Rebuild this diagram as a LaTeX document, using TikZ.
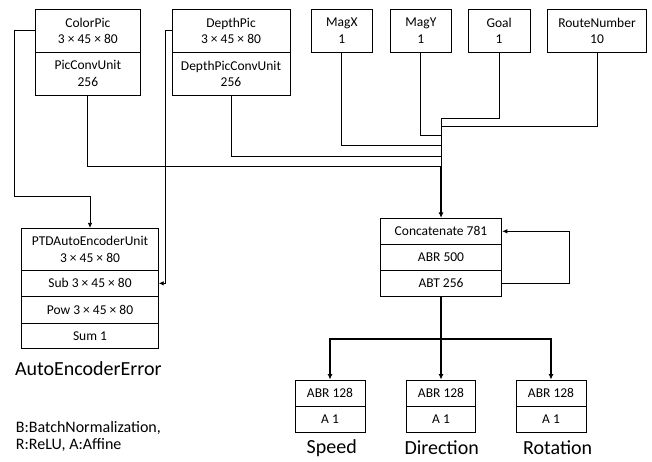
\documentclass[tikz,border=0pt]{standalone}
\usepackage{fontspec}
\setmainfont{Carlito}
\usetikzlibrary{arrows.meta,calc}
\newcommand{\dims}{3 × 45 × 80}
\begin{document}
\begin{tikzpicture}[x=1pt,y=-1pt,
  box/.style={draw,line width=0.8pt,inner sep=0pt,align=center,font=\fontsize{13.5}{16.5}\selectfont},
  wire/.style={line width=0.8pt},
  arr/.style={line width=0.8pt,-{Latex[length=5pt,width=4.5pt]}},
  thickarr/.style={line width=1.3pt,-{Latex[length=5.5pt,width=5pt]}},
  biglabel/.style={font=\fontsize{20}{22}\selectfont,inner sep=0pt},
  legend/.style={font=\fontsize{16}{19}\selectfont,inner sep=0pt,align=left,anchor=west}]
\useasboundingbox (0,0) rectangle (652,461);
% top row
\node[box,minimum width=104.3pt,minimum height=43pt] (cp1) at (87.85,30.8) {ColorPic\\\dims};
\node[box,minimum width=104.3pt,minimum height=42.7pt] (cp2) at (87.85,73.65) {PicConvUnit\\256};
\node[box,minimum width=118pt,minimum height=43pt] (dp1) at (231,30.8) {DepthPic\\\dims};
\node[box,minimum width=118pt,minimum height=42.7pt] (dp2) at (231,73.65) {DepthPicConvUnit\\256};
\node[box,minimum width=61.7pt,minimum height=43pt] (magx) at (341.85,30.8) {MagX\\1};
\node[box,minimum width=61.7pt,minimum height=43pt] (magy) at (420.85,30.8) {MagY\\1};
\node[box,minimum width=61.7pt,minimum height=43pt] (goal) at (499.15,30.8) {Goal\\1};
\node[box,minimum width=99.4pt,minimum height=43pt] (route) at (597,30.8) {RouteNumber\\10};
% autoencoder
\node[box,minimum width=136.6pt,minimum height=41.7pt] (ptd1) at (90,249.15) {PTDAutoEncoderUnit\\\dims};
\node[box,minimum width=136.6pt,minimum height=26.7pt] (ptd2) at (90,283.35) {Sub \dims};
\node[box,minimum width=136.6pt,minimum height=26.6pt] (ptd3) at (90,310) {Pow \dims};
\node[box,minimum width=136.6pt,minimum height=25pt] (ptd4) at (90,335.8) {Sum 1};
\node[biglabel] (aee) at (88.3,368.5) {AutoEncoderError};
% concat
\node[box,minimum width=121.7pt,minimum height=26pt] (cc1) at (441,231.3) {Concatenate 781};
\node[box,minimum width=121.7pt,minimum height=25.7pt] (cc2) at (441,257.15) {ABR 500};
\node[box,minimum width=121.7pt,minimum height=26.7pt] (cc3) at (441,283.35) {ABT 256};
% outputs
\node[box,minimum width=70pt,minimum height=26pt] (sp1) at (330,393) {ABR 128};
\node[box,minimum width=70pt,minimum height=26.3pt] (sp2) at (330,419.15) {A 1};
\node[box,minimum width=69.7pt,minimum height=26pt] (di1) at (441,393) {ABR 128};
\node[box,minimum width=69.7pt,minimum height=26.3pt] (di2) at (441,419.15) {A 1};
\node[box,minimum width=70pt,minimum height=26pt] (ro1) at (551,393) {ABR 128};
\node[box,minimum width=70pt,minimum height=26.3pt] (ro2) at (551,419.15) {A 1};
\node[biglabel] (speed) at (331.7,448) {Speed};
\node[biglabel] (dir) at (441.7,448) {Direction};
\node[biglabel] (rot) at (557.7,448) {Rotation};
% legend
\node[legend] (leg1) at (15.7,428.3) {B:BatchNormalization,};
\node[legend] (leg2) at (15.7,445) {R:ReLU, A:Affine};
% bus joints
\coordinate (jG) at (441,118.3);
\coordinate (jR) at (441,126.7);
\coordinate (jY) at (441,135.7);
\coordinate (jX) at (441,145.7);
\coordinate (jD) at (441,156);
\coordinate (jC) at (441,166.7);
\coordinate (split) at (441,339);
% connectors
\draw[arr] (cp1.west) -- ++(-20.7,0) -- ++(0,165.9) -| (ptd1.north);
\draw[arr] (dp1.west) -- ++(-6.3,0) |- (ptd2.east);
\draw[wire] (cp2.south) |- (jC);
\draw[wire] (dp2.south) |- (jD);
\draw[wire] (magx.south) |- (jX);
\draw[wire] (magy.south) |- (jY);
\draw[wire] (goal.south) |- (jG);
\draw[wire] (route.south) |- (jR);
\draw[wire] (jG) -- (jC);
\draw[thickarr] (jC) -- (cc1.north);
\draw[arr] (cc3.east) -- ++(67.3,0) |- (cc1.east);
\draw[line width=1.3pt] (cc3.south) -- (split);
\draw[thickarr] (split) -| (sp1.north);
\draw[thickarr] (split) -- (di1.north);
\draw[thickarr] (split) -| (ro1.north);
\end{tikzpicture}
\end{document}
